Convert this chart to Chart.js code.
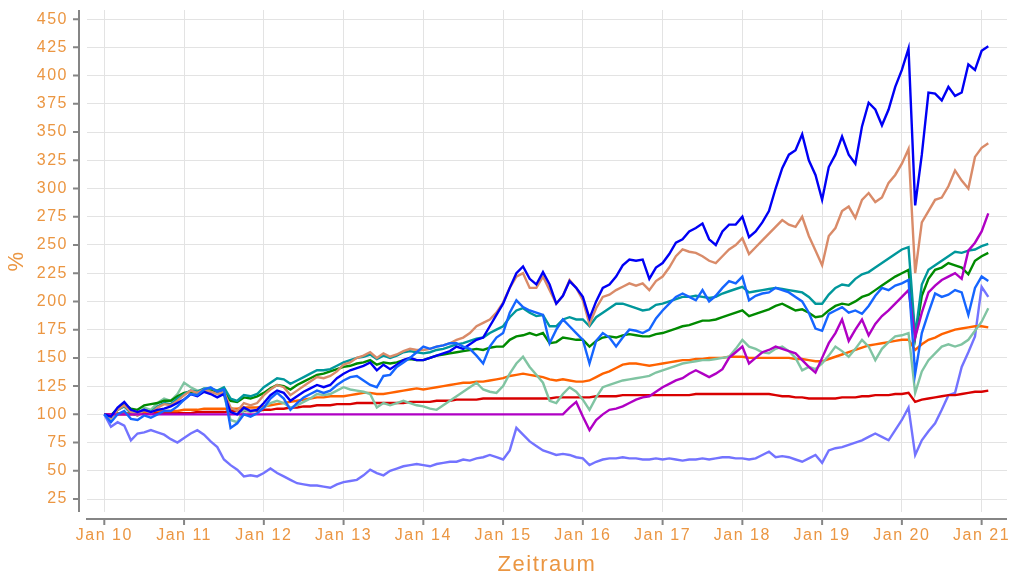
<!DOCTYPE html>
<html><head><meta charset="utf-8">
<script src="https://cdn.jsdelivr.net/npm/chart.js@4.4.1/dist/chart.umd.min.js"></script>
<style>html,body{margin:0;padding:0;background:#fff;overflow:hidden}</style>
</head><body>
<canvas id="c" width="1011" height="578" style="display:block;width:1011px;height:578px"></canvas>
<script>
// ---------- data (monthly readings, Jan 2010 .. Feb 2021) ----------
const firstYear = 2010;
const monthCount = 134;
const dates = Array.from({length: monthCount}, (_, i) => firstYear + i / 12);

const xTickYears = [2010,2011,2012,2013,2014,2015,2016,2017,2018,2019,2020,2021];
const xTickLabels = ['Jan 10','Jan 11','Jan 12','Jan 13','Jan 14','Jan 15','Jan 16','Jan 17','Jan 18','Jan 19','Jan 20','Jan 21'];
const yTickValues = [25,50,75,100,125,150,175,200,225,250,275,300,325,350,375,400,425,450];

const blue = [
 100,98,106,111,104,102,104,102,104,105,107,110,
 113,118,116,120,118,115,118,102,100,106,103,104,
 110,117,121,119,112,116,120,123,126,124,126,132,
 136,139,141,143,146,139,144,140,144,148,150,148,
 148,150,152,154,156,160,158,162,166,168,178,188,
 198,212,225,231,220,215,226,215,198,205,218,212,
 204,185,200,212,215,222,232,237,236,237,220,230,
 234,242,252,255,262,265,269,255,250,262,268,268,
 275,257,262,270,280,300,318,330,334,348,325,312,
 290,319,330,346,330,322,355,376,370,356,370,390,
 405,424,285,330,385,384,378,390,382,385,410,405,
 422,426];
const salmon = [
 100,97,104,108,102,99,104,101,106,109,108,112,
 117,121,119,122,120,118,120,106,103,110,108,110,
 117,122,126,124,117,121,125,129,133,132,134,138,
 144,146,150,152,155,150,154,151,153,156,158,157,
 157,158,160,161,163,166,168,172,178,181,184,190,
 199,212,222,225,212,212,222,210,198,205,219,212,
 201,180,194,204,206,210,213,216,214,216,210,218,
 222,230,240,246,244,243,240,236,234,240,246,250,
 256,242,248,254,260,266,272,268,266,275,258,245,
 232,258,265,280,284,274,290,296,288,292,305,312,
 322,335,225,270,280,290,292,302,316,307,300,328,
 336,340];
const teal = [
 100,98,104,107,101,99,104,102,107,110,109,114,
 118,121,120,123,123,121,124,114,112,117,116,118,
 124,128,132,131,127,130,133,136,139,139,140,143,
 146,148,150,151,153,149,152,150,152,155,156,155,
 154,155,157,158,160,162,163,165,167,168,172,175,
 178,186,192,194,190,187,188,178,178,184,186,184,
 184,178,186,190,194,198,198,196,194,192,193,197,
 198,200,202,204,204,205,204,203,204,207,209,211,
 213,208,209,210,211,212,211,210,209,208,204,198,
 198,206,212,215,214,220,224,226,230,234,238,242,
 246,248,170,215,228,232,236,240,244,243,245,246,
 249,251];
const green = [
 100,99,105,109,105,104,108,109,110,112,112,116,
 119,120,119,121,121,119,120,112,111,115,114,116,
 119,123,126,125,122,126,129,132,135,136,138,140,
 142,143,145,146,148,144,146,145,146,148,149,148,
 148,150,152,153,154,155,156,157,158,157,159,160,
 160,166,169,170,172,170,172,163,164,168,167,166,
 166,160,165,168,169,168,170,171,170,169,169,171,
 172,174,176,178,179,181,183,183,184,186,188,190,
 192,187,189,191,193,196,198,195,192,193,190,186,
 187,192,196,198,197,200,204,206,210,214,218,222,
 225,228,168,205,220,228,230,234,232,230,224,236,
 240,243];
const dodger = [
 100,93,100,103,96,95,99,97,100,103,103,107,
 113,118,117,122,124,120,122,88,92,100,98,101,
 106,114,119,114,104,110,115,118,121,119,121,126,
 130,133,134,130,126,124,134,135,142,146,150,155,
 160,158,160,161,163,163,160,158,152,145,160,168,
 172,190,201,195,192,190,188,163,175,184,178,172,
 166,145,165,172,168,160,168,175,174,172,175,185,
 192,198,204,207,204,201,210,200,205,212,218,216,
 222,201,205,207,208,212,210,208,204,200,190,176,
 174,189,192,195,190,192,189,196,205,212,210,214,
 216,219,136,172,190,207,204,206,210,208,188,212,
 222,218];
const magenta = [
 100,100,100,100,100,100,100,100,100,100,100,100,
 100,100,100,100,100,100,100,100,100,100,100,100,
 100,100,100,100,100,100,100,100,100,100,100,100,
 100,100,100,100,100,100,100,100,100,100,100,100,
 100,100,100,100,100,100,100,100,100,100,100,100,
 100,100,100,100,100,100,100,100,100,100,106,111,
 98,86,95,100,104,105,107,110,113,115,116,120,
 124,127,130,132,136,139,136,133,136,140,150,155,
 160,145,150,155,157,160,158,156,154,148,142,137,
 150,163,172,184,165,175,184,170,180,187,192,198,
 204,210,168,190,208,214,219,222,225,220,245,252,
 262,278];
const mint = [
 100,96,104,108,102,100,106,104,110,114,112,118,
 128,124,121,122,121,118,117,95,93,104,102,104,
 106,110,112,110,106,108,111,114,118,117,118,121,
 124,122,121,120,118,106,110,108,110,112,110,108,
 107,105,104,108,112,116,120,124,128,122,120,119,
 125,136,145,151,142,135,128,112,110,118,124,120,
 113,104,115,124,126,128,130,131,132,133,134,137,
 139,141,143,145,146,147,148,148,149,150,151,158,
 166,160,158,155,154,158,160,156,150,139,142,140,
 145,152,160,156,151,158,166,160,148,158,164,169,
 170,172,119,138,148,154,160,162,160,162,166,174,
 182,194];
const orange = [
 100,100,101,101,101,102,102,103,103,103,103,103,
 104,104,104,105,105,105,105,105,105,106,106,106,
 107,108,109,110,111,112,113,114,115,115,116,116,
 116,117,118,119,119,118,118,119,120,121,122,123,
 122,123,124,125,126,127,128,128,129,129,130,131,
 132,134,135,136,135,134,133,131,130,131,130,129,
 129,130,133,136,138,141,144,145,145,144,143,144,
 145,146,147,148,148,149,149,150,150,150,151,151,
 151,150,150,150,150,150,150,150,149,149,148,147,
 147,149,151,153,155,157,159,161,162,163,164,165,
 166,166,157,162,166,168,171,173,175,176,177,178,
 178,177];
const red = [
 100,100,100,100,100,100,101,101,101,101,101,101,
 101,101,102,102,102,102,102,103,103,103,103,103,
 104,104,105,105,106,106,107,107,108,108,108,109,
 109,109,110,110,110,110,110,110,110,110,111,111,
 111,111,112,112,112,113,113,113,113,114,114,114,
 114,114,114,114,114,114,114,114,115,115,115,115,
 115,115,116,116,116,116,117,117,117,117,117,117,
 117,117,117,117,117,118,118,118,118,118,118,118,
 118,118,118,118,118,117,116,116,115,115,114,114,
 114,114,114,115,115,115,116,116,117,117,117,118,
 118,119,111,113,114,115,116,117,117,118,119,120,
 120,121];
const periwinkle = [
 100,89,93,90,77,83,84,86,84,82,78,75,
 79,83,86,82,76,71,60,55,51,45,46,45,
 48,52,48,45,42,39,38,37,37,36,35,38,
 40,41,42,46,51,48,46,50,52,54,55,56,
 55,54,56,57,58,58,60,59,61,62,64,62,
 60,68,88,82,76,72,68,66,64,65,64,62,
 61,55,58,60,61,61,62,61,61,60,60,61,
 60,61,60,59,60,60,61,60,61,62,62,61,
 61,60,61,64,67,62,63,62,60,58,61,64,
 57,68,70,71,73,75,77,80,83,80,77,86,
 95,106,64,77,85,92,104,117,119,142,155,169,
 213,204];

// ---------- chart ----------
const textColor = '#eb9642';
const fontFamily = "'Liberation Sans', Arial, Helvetica, sans-serif";
const seriesList = [
  {data: dodger, color: '#1565ff'},
  {data: blue, color: '#0000f5'},
  {data: magenta, color: '#b000c4'},
  {data: salmon, color: '#d98b69'},
  {data: teal, color: '#00979b'},
  {data: green, color: '#008a00'},
  {data: mint, color: '#80c4a2'},
  {data: orange, color: '#ff6200'},
  {data: red, color: '#d80000'},
  {data: periwinkle, color: '#7373ff'}
];

const spacingPlugin = {
  id: 'spacing',
  beforeLayout(c) { c.ctx.letterSpacing = '1.5px'; },
  beforeDraw(c) { c.ctx.letterSpacing = '1.5px'; }
};
const axisLines = {
  id: 'axisLines',
  afterDraw(chart) {
    const {ctx, chartArea: a, scales: {x, y}} = chart;
    ctx.save();
    ctx.strokeStyle = '#858585';
    ctx.lineWidth = 2;
    ctx.beginPath();
    const ax = a.left - 8;
    ctx.moveTo(ax, a.top); ctx.lineTo(ax, a.bottom);
    y.ticks.forEach(t => { const py = y.getPixelForValue(t.value); ctx.moveTo(ax - 6, py); ctx.lineTo(ax, py); });
    const ay = a.bottom + 7;
    ctx.moveTo(a.left - 1, ay); ctx.lineTo(a.right, ay);
    x.ticks.forEach(t => { const px = x.getPixelForValue(t.value); ctx.moveTo(px, ay); ctx.lineTo(px, ay + 6); });
    ctx.stroke();
    ctx.restore();
  }
};
function noPad(s) { s.paddingTop = 0; s.paddingBottom = 0; s.paddingLeft = 0; s.paddingRight = 0; }

new Chart(document.getElementById('c'), {
  type: 'line',
  data: {
    datasets: seriesList.map(s => ({
      data: dates.map((t, i) => ({x: t, y: s.data[i]})),
      borderColor: s.color,
      backgroundColor: s.color,
      borderWidth: 2.4,
      pointRadius: 0,
      tension: 0,
      fill: false
    }))
  },
  options: {
    responsive: false,
    animation: false,
    devicePixelRatio: 1,
    layout: {padding: {left: 0, right: 4, top: 10, bottom: 0}},
    plugins: {legend: {display: false}, tooltip: {enabled: false}},
    scales: {
      x: {
        type: 'linear',
        min: 2009.783,
        max: 2021.318,
        afterBuildTicks: s => { s.ticks = xTickYears.map(v => ({value: v})); },
        afterFit: s => { s.height = 66; noPad(s); },
        grid: {color: '#e3e3e3', lineWidth: 1, drawTicks: false},
        border: {display: false},
        ticks: {
          autoSkip: false, maxRotation: 0, minRotation: 0, padding: 14,
          color: textColor, font: {family: fontFamily, size: 16},
          callback: (v, i) => xTickLabels[i]
        },
        title: {display: true, text: 'Zeitraum', color: textColor,
          font: {family: fontFamily, size: 22, lineHeight: 1.2}, padding: {top: 0, bottom: 0}}
      },
      y: {
        type: 'linear',
        min: 13.5,
        max: 458.1,
        afterBuildTicks: s => { s.ticks = yTickValues.map(v => ({value: v})); },
        afterFit: s => { s.width = 87; noPad(s); },
        grid: {color: '#e3e3e3', lineWidth: 1, drawTicks: false},
        border: {display: false},
        ticks: {padding: 19, color: textColor, font: {family: fontFamily, size: 16},
          callback: v => String(v)},
        title: {display: true, text: '%', color: textColor,
          font: {family: fontFamily, size: 22, lineHeight: 1.2}, padding: {top: 4, bottom: 0}}
      }
    }
  },
  plugins: [spacingPlugin, axisLines]
});
</script>
</body></html>
